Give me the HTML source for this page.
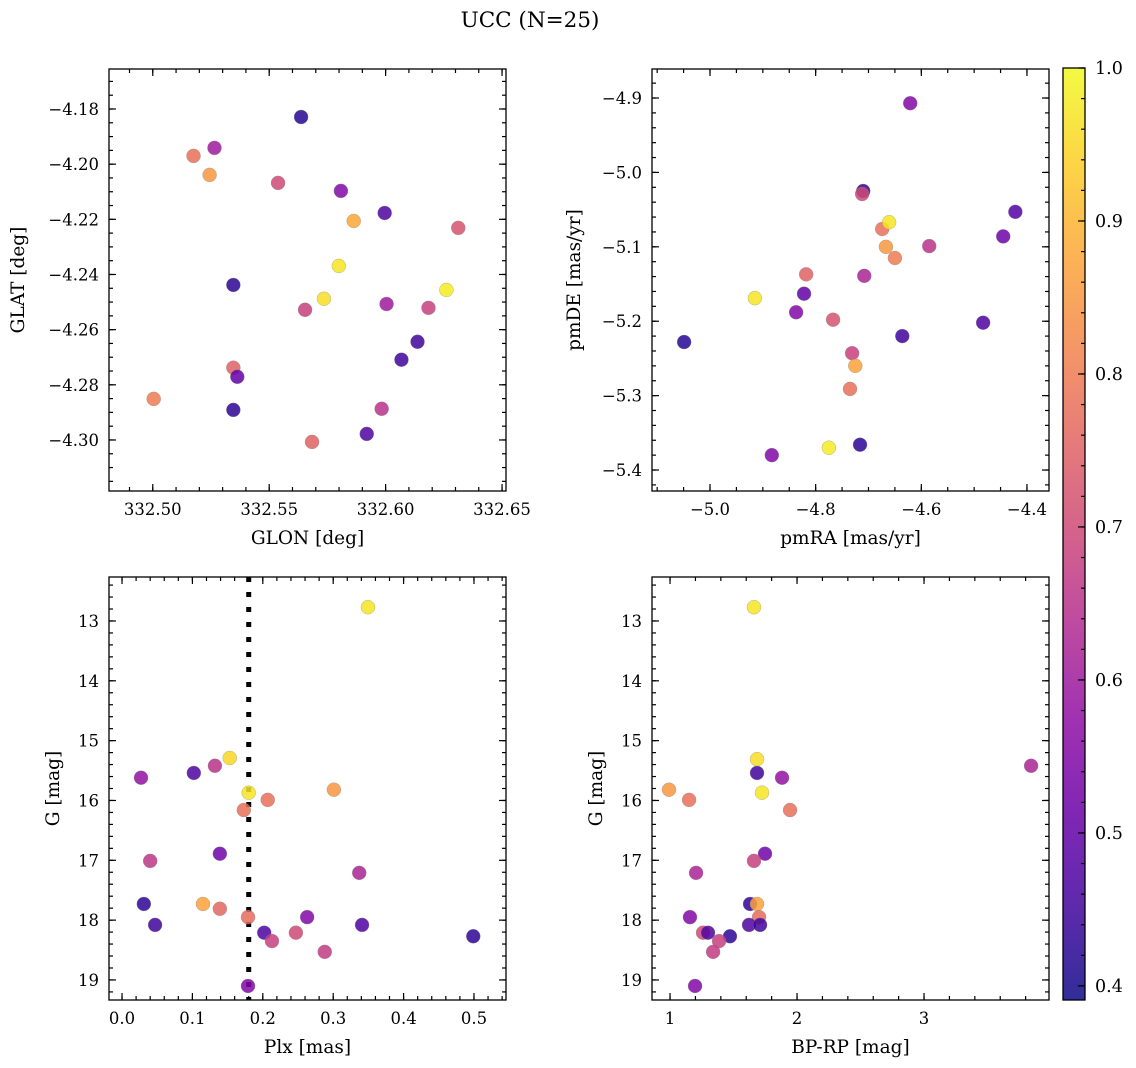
<!DOCTYPE html>
<html><head><meta charset="utf-8">
<style>
body{margin:0;background:#fff;}
svg{display:block;font-family:"DejaVu Serif","Liberation Serif",serif;}
</style></head>
<body>
<svg id="fig" width="1136" height="1068" viewBox="0 0 1136 1068" xmlns="http://www.w3.org/2000/svg">
<text x="530" y="27" font-size="21.5" text-anchor="middle">UCC (N=25)</text>
</svg>
<script>
// ---- data ----
const radecGlon=[332.5637,332.5175,332.5265,332.5244,332.5538,332.5808,332.5996,332.5863,332.6312,332.5799,332.5346,332.5735,332.6261,332.5654,332.6004,332.6184,332.6137,332.6068,332.5346,332.5363,332.5004,332.5346,332.5983,332.5919,332.5684];
const radecGlat=[-4.1829,-4.1970,-4.1941,-4.2039,-4.2068,-4.2097,-4.2177,-4.2206,-4.2231,-4.2369,-4.2438,-4.2488,-4.2456,-4.2528,-4.2507,-4.2521,-4.2644,-4.2709,-4.2738,-4.2771,-4.2851,-4.2891,-4.2887,-4.2978,-4.3007];
const radecProb=[0.42,0.78,0.6,0.85,0.7,0.55,0.47,0.88,0.72,0.97,0.43,0.96,0.98,0.68,0.6,0.68,0.45,0.45,0.75,0.5,0.8,0.43,0.65,0.47,0.75];

const pmRA=[-4.621,-4.710,-4.712,-4.422,-4.445,-4.674,-4.661,-4.667,-4.650,-4.585,-4.818,-4.708,-4.822,-4.915,-4.837,-4.767,-5.049,-4.483,-4.636,-4.731,-4.725,-4.735,-4.716,-4.775,-4.883];
const pmDE=[-4.907,-5.025,-5.029,-5.053,-5.086,-5.076,-5.067,-5.100,-5.115,-5.099,-5.137,-5.139,-5.163,-5.169,-5.188,-5.198,-5.228,-5.202,-5.220,-5.243,-5.260,-5.291,-5.366,-5.370,-5.380];
const pmProb=[0.55,0.43,0.7,0.48,0.52,0.78,0.97,0.85,0.8,0.65,0.75,0.62,0.5,0.97,0.55,0.72,0.42,0.47,0.45,0.68,0.87,0.78,0.43,0.98,0.55];

const plx=[0.3494,0.027,0.102,0.132,0.153,0.207,0.173,0.180,0.301,0.040,0.139,0.337,0.031,0.115,0.139,0.047,0.179,0.263,0.202,0.247,0.213,0.341,0.288,0.499,0.179];
const plxG=[12.77,15.62,15.54,15.42,15.29,15.99,16.16,15.87,15.82,17.01,16.89,17.21,17.73,17.73,17.81,18.08,17.95,17.95,18.21,18.21,18.35,18.08,18.53,18.27,19.10];
const plxProb=[0.97,0.58,0.47,0.65,0.95,0.78,0.78,0.97,0.85,0.66,0.52,0.62,0.43,0.87,0.76,0.45,0.77,0.55,0.47,0.7,0.68,0.47,0.67,0.43,0.55];
const plxCut=[0.180];

const bprp=[1.661,1.685,1.685,1.882,3.843,0.992,1.724,1.150,1.945,1.748,1.661,1.205,1.630,1.685,1.701,1.157,1.622,1.709,1.260,1.299,1.472,1.386,1.339,1.197];
const cmdG=[12.77,15.31,15.54,15.62,15.42,15.82,15.87,15.99,16.16,16.89,17.01,17.21,17.73,17.73,17.95,17.95,18.08,18.08,18.21,18.21,18.27,18.35,18.53,19.10];
const cmdProb=[0.97,0.96,0.45,0.58,0.62,0.85,0.97,0.78,0.78,0.52,0.68,0.62,0.43,0.87,0.77,0.55,0.47,0.45,0.7,0.47,0.43,0.68,0.67,0.55];

const cbarTicks=[0.4,0.5,0.6,0.7,0.8,0.9,1.0];

// ---- helpers ----
const NS='http://www.w3.org/2000/svg';
const svg=document.getElementById('fig');
function mk(tag,attrs,parent){const e=document.createElementNS(NS,tag);for(const k in attrs)e.setAttribute(k,attrs[k]);(parent||svg).appendChild(e);return e;}
const stops=['#0d0887','#41049d','#6a00a8','#8f0da4','#b12a90','#cc4778','#e16462','#f2844b','#fca636','#fcce25','#f0f921'];
function hex(h){return [1,3,5].map(i=>parseInt(h.substr(i,2),16));}
const VMIN=0.3908,VMAX=1.0;
function plasma(v){let t=(v-VMIN)/(VMAX-VMIN);t=Math.max(0,Math.min(1,t));const f=t*10;const i=Math.min(9,Math.floor(f));const r=f-i;const a=hex(stops[i]),b=hex(stops[i+1]);return 'rgb('+a.map((c,k)=>Math.round(c+(b[k]-c)*r)).join(',')+')';}
function fmt(v,d){const s=v.toFixed(d);return s.startsWith('-')?'\u2212'+s.slice(1):s;}
const TF=16.5, LF=18.5;

function panel(cfg){
  const g=mk('g',{});
  
  
  const {L,T,R,B,x0,x1,y0,y1}=cfg;
  const sx=v=>L+(v-x0)/(x1-x0)*(R-L);
  const sy=v=>cfg.invert? T+(v-y0)/(y1-y0)*(B-T) : B-(v-y0)/(y1-y0)*(B-T);
  function ticks(step,len,axis,labels,dec){
    const lo=axis==='x'?Math.min(x0,x1):Math.min(y0,y1), hi=axis==='x'?Math.max(x0,x1):Math.max(y0,y1);
    for(let k=Math.ceil(lo/step-1e-6);k*step<=hi+1e-9;k++){
      const v=+(k*step).toFixed(6);
      if(axis==='x'){const p=sx(v);
        mk('line',{x1:p,x2:p,y1:B,y2:B-len,stroke:'#000','stroke-width':1.2},g);
        mk('line',{x1:p,x2:p,y1:T,y2:T+len,stroke:'#000','stroke-width':1.2},g);
        if(labels){const t=mk('text',{x:p,y:B+24,'font-size':TF,'text-anchor':'middle'},g);t.textContent=fmt(v,dec);}
      } else {const p=sy(v);
        mk('line',{x1:L,x2:L+len,y1:p,y2:p,stroke:'#000','stroke-width':1.2},g);
        mk('line',{x1:R,x2:R-len,y1:p,y2:p,stroke:'#000','stroke-width':1.2},g);
        if(labels){const t=mk('text',{x:L-10,y:p+6,'font-size':TF,'text-anchor':'end'},g);t.textContent=fmt(v,dec);}
      }
    }
  }
  ticks(cfg.xmin,4,'x',false);ticks(cfg.xmaj,7,'x',true,cfg.xdec);
  ticks(cfg.ymin,4,'y',false);ticks(cfg.ymaj,7,'y',true,cfg.ydec);
  if(cfg.vline!==undefined){const p=sx(cfg.vline);const l=mk('line',{x1:p,x2:p,y1:T,y2:B,stroke:'#000','stroke-width':5,'stroke-dasharray':'5 10'},g);}
  for(let i=0;i<cfg.xs.length;i++){
    const c=mk('circle',{cx:sx(cfg.xs[i]),cy:sy(cfg.ys[i]),r:7,fill:plasma(cfg.cs[i]),'fill-opacity':0.85,stroke:'#888','stroke-width':0.5,'stroke-opacity':0.6},g);
    
    
  }
  const fr=mk('rect',{x:L,y:T,width:R-L,height:B-T,fill:'none',stroke:'#000','stroke-width':1.3},g);
  
  const xl=mk('text',{x:(L+R)/2,y:B+53,'font-size':LF,'text-anchor':'middle'},g);xl.textContent=cfg.xlabel;
  
  const yx=cfg.ylx, yy=(T+B)/2;
  const yl=mk('text',{x:yx,y:yy,'font-size':LF,'text-anchor':'middle',transform:'rotate(-90 '+yx+' '+yy+')'},g);yl.textContent=cfg.ylabel;
  
}

panel({name:'position-panel',L:109,T:69,R:506,B:491,x0:332.4812,x1:332.6517,y0:-4.3185,y1:-4.1655,xmaj:0.05,xmin:0.01,ymaj:0.02,ymin:0.005,xdec:2,ydec:2,xs:radecGlon,ys:radecGlat,cs:radecProb,xlabel:'GLON [deg]',ylabel:'GLAT [deg]',ylx:24});
panel({name:'proper-motion-panel',L:652,T:69,R:1049,B:491,x0:-5.1098,x1:-4.3583,y0:-5.4282,y1:-4.861,xmaj:0.2,xmin:0.05,ymaj:0.1,ymin:0.02,xdec:1,ydec:1,xs:pmRA,ys:pmDE,cs:pmProb,xlabel:'pmRA [mas/yr]',ylabel:'pmDE [mas/yr]',ylx:580});
panel({name:'parallax-panel',L:109,T:577,R:506,B:1000,invert:true,x0:-0.0185,x1:0.5455,y0:12.265,y1:19.335,xmaj:0.1,xmin:0.02,ymaj:1,ymin:0.2,xdec:1,ydec:0,xs:plx,ys:plxG,cs:plxProb,vline:plxCut[0],xlabel:'Plx [mas]',ylabel:'G [mag]',ylx:59});
panel({name:'cmd-panel',L:652,T:577,R:1049,B:1000,invert:true,x0:0.858,x1:3.984,y0:12.265,y1:19.335,xmaj:1,xmin:0.2,ymaj:1,ymin:0.2,xdec:0,ydec:0,xs:bprp,ys:cmdG,cs:cmdProb,xlabel:'BP-RP [mag]',ylabel:'G [mag]',ylx:602});

// colorbar
const cb=mk('g',{});


const defs=mk('defs',{},cb);
const lg=mk('linearGradient',{id:'cbg',x1:0,y1:1,x2:0,y2:0},defs);
for(let i=0;i<=20;i++){const v=VMIN+(VMAX-VMIN)*i/20;mk('stop',{offset:i/20,'stop-color':plasma(v),'stop-opacity':0.85},lg);}
const CT=68,CB=1000,CL=1063,CR=1085;
const cy=v=>CB-(v-VMIN)/(VMAX-VMIN)*(CB-CT);
mk('rect',{x:CL,y:CT,width:CR-CL,height:CB-CT,fill:'url(#cbg)',stroke:'#000','stroke-width':1.3},cb);
for(let k=20;k<=50;k++){const v=k*0.02;if(v<VMIN)continue;mk('line',{x1:CR,x2:CR-4,y1:cy(v),y2:cy(v),stroke:'#000','stroke-width':1.2},cb);}
for(const v of cbarTicks){mk('line',{x1:CR,x2:CR-7,y1:cy(v),y2:cy(v),stroke:'#000','stroke-width':1.2},cb);
  const t=mk('text',{x:CR+10,y:cy(v)+6,'font-size':17.5},cb);t.textContent=v.toFixed(1);
  }
</script>
</body></html>
